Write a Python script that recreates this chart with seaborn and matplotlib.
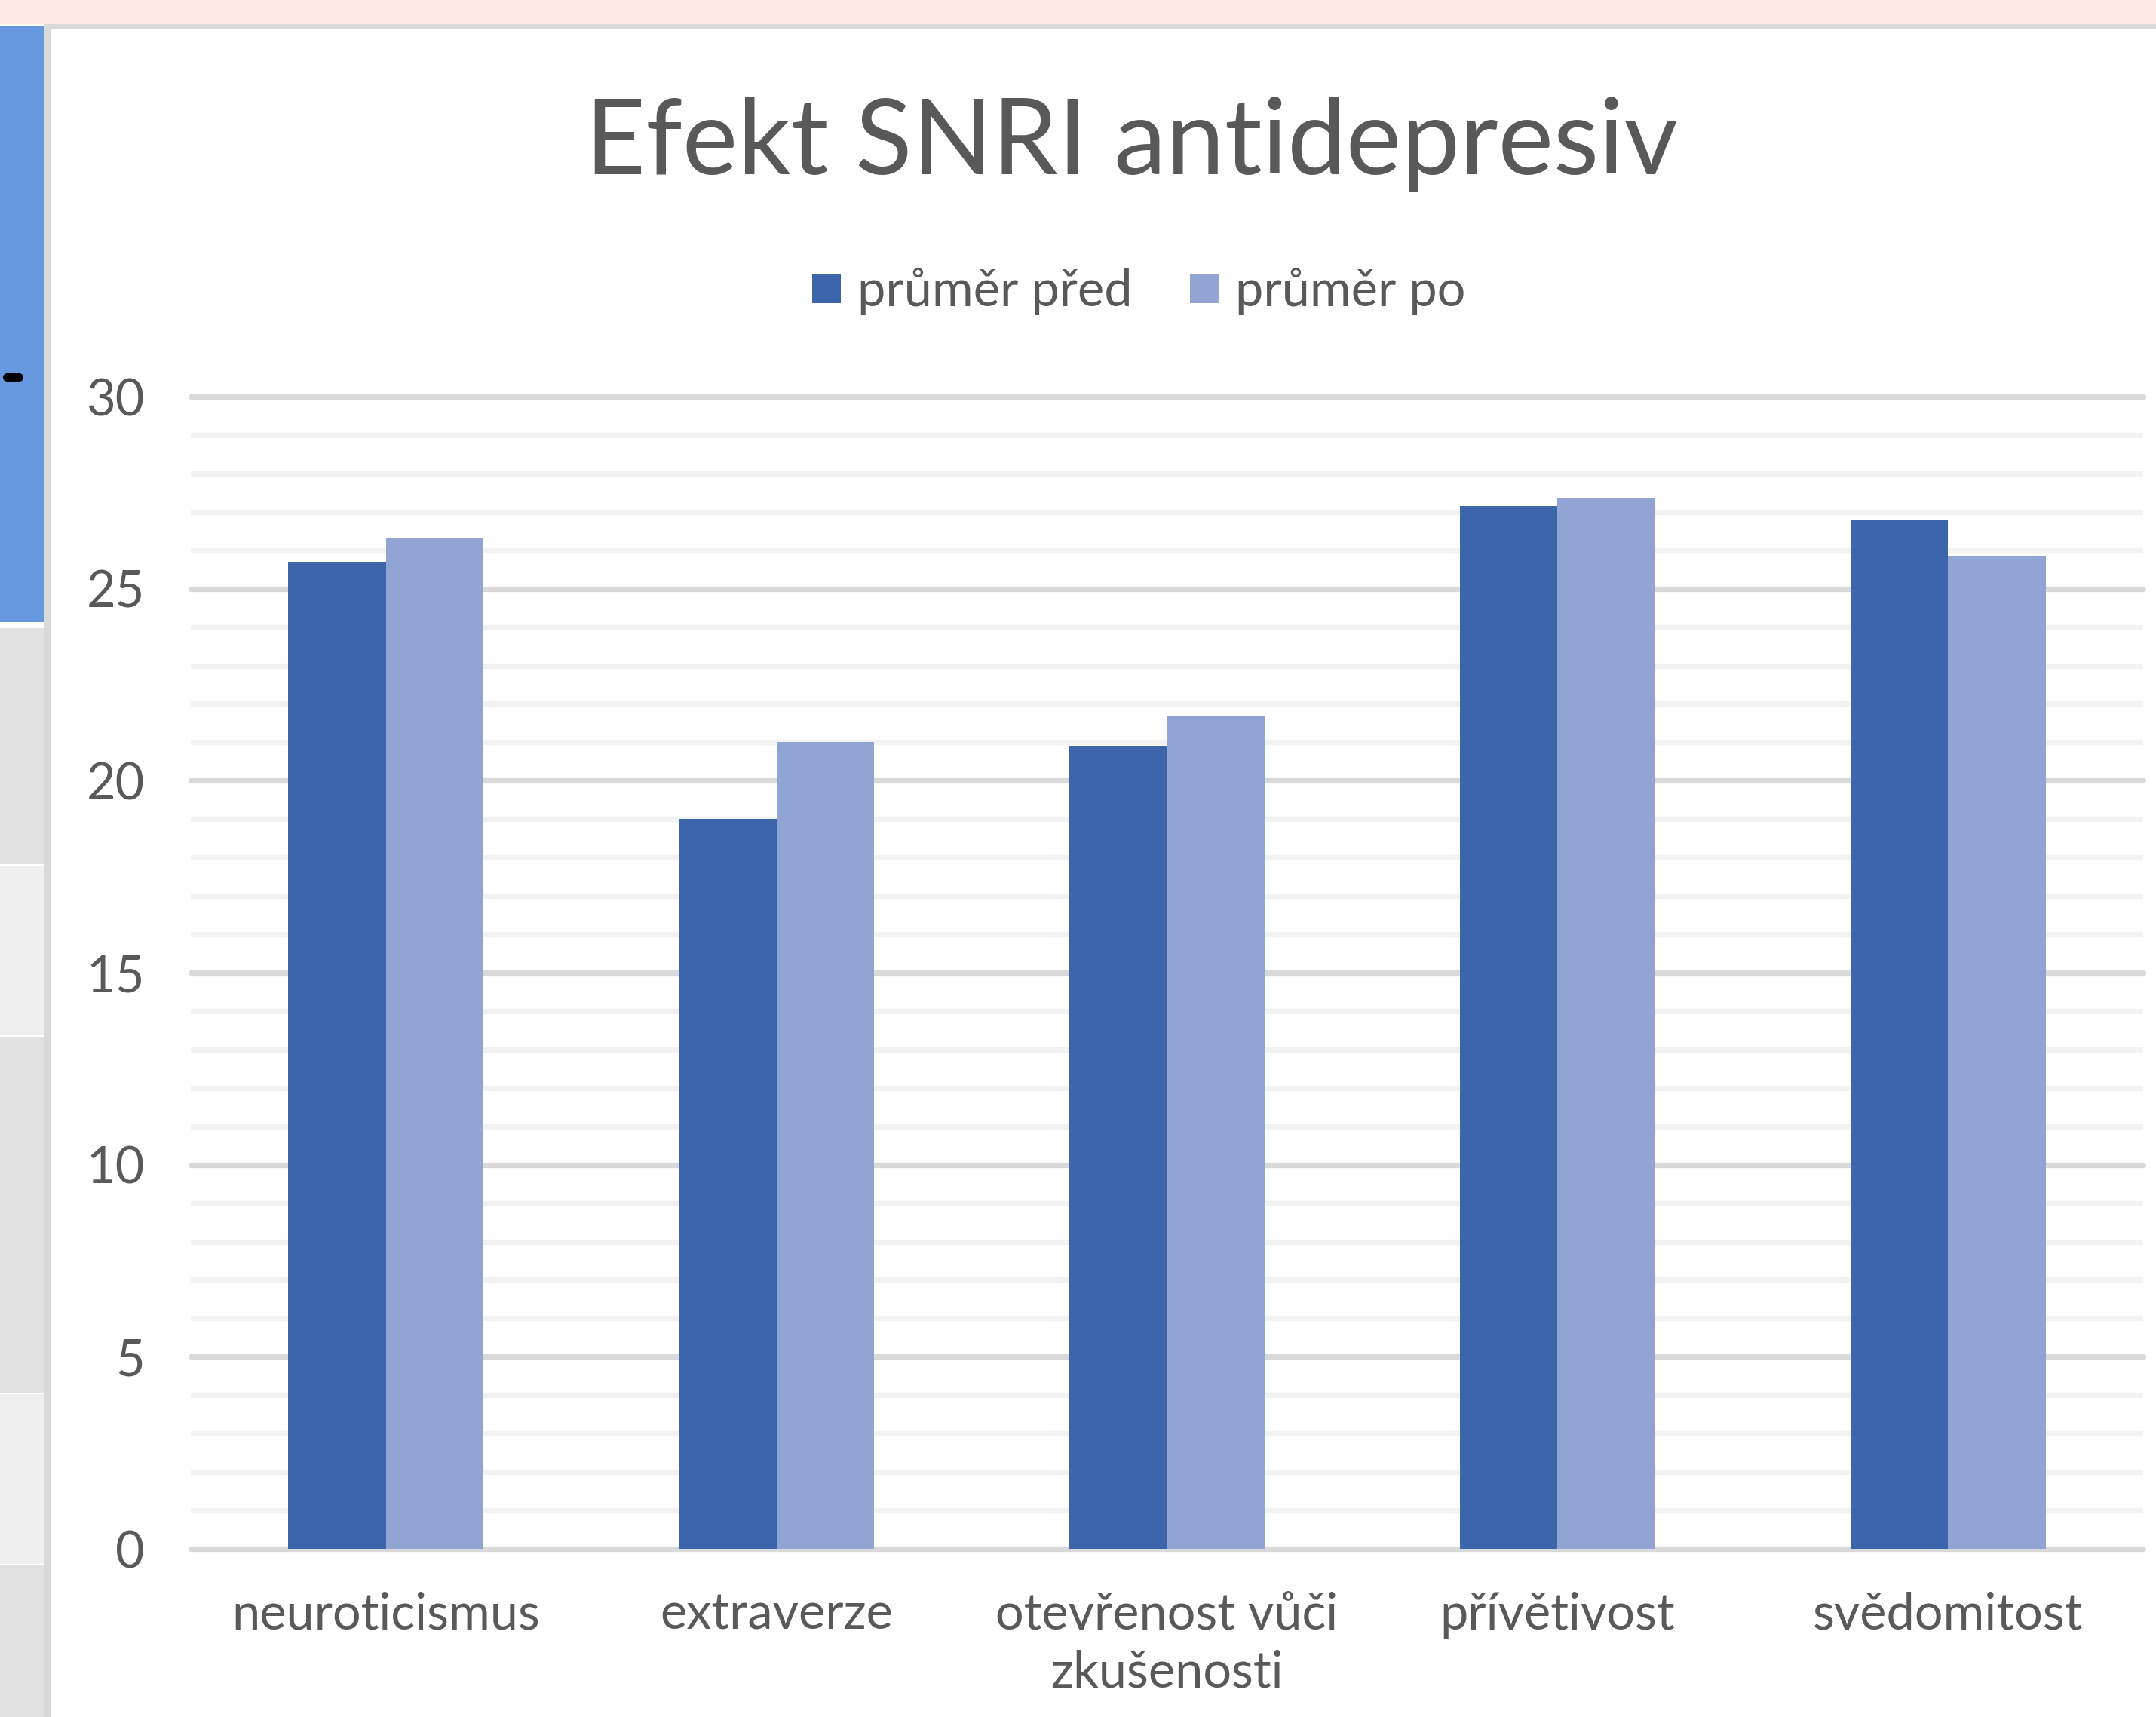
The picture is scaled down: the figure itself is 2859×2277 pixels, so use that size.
import matplotlib
matplotlib.use("Agg")
import matplotlib.pyplot as plt
import pandas as pd
import seaborn as sns
from matplotlib.patches import Rectangle
from matplotlib.lines import Line2D
from matplotlib.ticker import MultipleLocator

# data
vlastnosti = ["neuroticismus", "extraverze", "otevřenost vůči\nzkušenosti",
              "přívětivost", "svědomitost"]
prumer_pred = [25.7, 19.0, 20.9, 27.15, 26.8]
prumer_po = [26.3, 21.0, 21.7, 27.35, 25.85]
serie = ["průměr před", "průměr po"]
barvy = ["#3d65ab", "#91a4d4"]

df = pd.DataFrame({
    "vlastnost": vlastnosti * 2,
    "hodnota": prumer_pred + prumer_po,
    "serie": [serie[0]] * len(vlastnosti) + [serie[1]] * len(vlastnosti),
})

sns.set_theme(style="white")
plt.rcParams["font.family"] = ["Lato", "DejaVu Sans"]
TXT = "#595959"
FS = 48

W, H = 2859, 2277
fig = plt.figure(figsize=(W / 100, H / 100), dpi=100)


def px_rect(x0, y0, x1, y1, color, z=0):
    # rectangle given in image pixels (origin top-left)
    fig.add_artist(Rectangle((x0 / W, 1 - y1 / H), (x1 - x0) / W, (y1 - y0) / H,
                             transform=fig.transFigure, color=color, lw=0, zorder=z))


# surrounding spreadsheet bits of the screenshot
px_rect(0, 0, W, 32, "#fcebe3")
px_rect(58, 32, W, 39, "#d9d9d9")
px_rect(58, 32, 67, H, "#d9d9d9")
px_rect(0, 34, 58, 825, "#6699df")
for y0, y1, c in [(833, 1146, "#e1e1e1"), (1148, 1373, "#efefef"), (1375, 1847, "#e1e1e1"),
                  (1849, 2074, "#efefef"), (2076, H, "#e1e1e1")]:
    px_rect(0, y0, 58, y1, c)
fig.add_artist(Line2D([9 / W, 25 / W], [1 - 500 / H] * 2, transform=fig.transFigure,
                      color="black", lw=8, solid_capstyle="round"))

ax = fig.add_axes([253 / W, 223 / H, 2589 / W, 1528 / H])
sns.barplot(data=df, x="vlastnost", y="hodnota", hue="serie", palette=barvy,
            saturation=1, width=0.5, gap=0, linewidth=0, ax=ax)

ax.set_xlim(-0.5, 4.5)
ax.set_ylim(0, 30)
ax.yaxis.set_major_locator(MultipleLocator(5))
ax.yaxis.set_minor_locator(MultipleLocator(1))
ax.set_axisbelow(True)
ax.grid(axis="y", which="major", color="#d9d9d9", lw=5.2)
ax.grid(axis="y", which="minor", color="#f2f2f2", lw=5.2)
for gl in ax.get_ygridlines():
    gl.set_clip_on(False)
for s in ax.spines.values():
    s.set_visible(False)
ax.set_xlabel("")
ax.set_ylabel("")
ax.tick_params(axis="y", which="both", length=0, pad=44, labelsize=FS, labelcolor=TXT)
ax.tick_params(axis="x", length=0, pad=41, labelsize=FS, labelcolor=TXT)
for t in ax.get_xticklabels():
    t.set_linespacing(1.3)

handles, labels = ax.get_legend_handles_labels()
ax.legend(handles, labels, loc="center", bbox_to_anchor=(1510 / W, 1 - 387 / H),
          bbox_transform=fig.transFigure, ncol=2, frameon=False, fontsize=FS,
          labelcolor=TXT, handlelength=0.57, handleheight=0.52,
          handletextpad=0.33, columnspacing=1.15)

fig.text(1501 / W, 1 - 231 / H, "Efekt SNRI antidepresiv", ha="center", va="baseline",
         fontsize=100, color=TXT)

fig.savefig("out.png", dpi=100)
